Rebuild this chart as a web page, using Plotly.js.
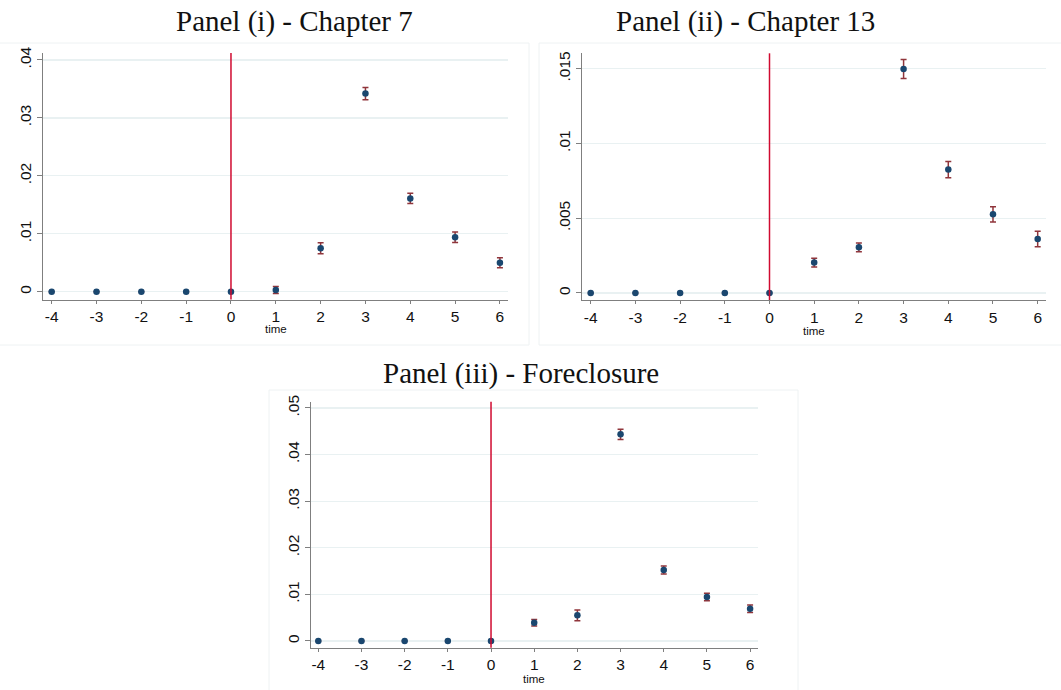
<!DOCTYPE html>
<html>
<head>
<meta charset="utf-8">
<script src="https://cdn.plot.ly/plotly-3.0.1.min.js"></script>
<style>html,body{margin:0;padding:0;background:#fff}#chart{width:1061px;height:690px}</style>
</head>
<body>
<div id="chart"></div>
<script>
// ---- data ----
const time = [-4, -3, -2, -1, 0, 1, 2, 3, 4, 5, 6];

const ch7     = [0, 0, 0, 0, 0, 0.0003, 0.0075, 0.0342, 0.0161, 0.0094, 0.0050];
const ch7Err  = [0, 0, 0, 0, 0, 0.0006, 0.00095, 0.00106, 0.00089, 0.00092, 0.00086];

const ch13    = [0, 0, 0, 0, 0, 0.00203, 0.00305, 0.01498, 0.00825, 0.00526, 0.00361];
const ch13Err = [0, 0, 0, 0, 0, 0.0003, 0.0003, 0.00064, 0.00055, 0.00051, 0.00052];

const fore    = [0, 0, 0, 0, 0, 0.00393, 0.00551, 0.04435, 0.01524, 0.00944, 0.00694];
const foreErr = [0, 0, 0, 0, 0, 0.0007, 0.00114, 0.0011, 0.00086, 0.0008, 0.0008];

const xTicks  = [-4, -3, -2, -1, 0, 1, 2, 3, 4, 5, 6];
const xLabels = ["-4", "-3", "-2", "-1", "0", "1", "2", "3", "4", "5", "6"];
const ch7Ticks  = [0, 0.01, 0.02, 0.03, 0.04];
const ch7Labels = ["0", ".01", ".02", ".03", ".04"];
const ch13Ticks  = [0, 0.005, 0.01, 0.015];
const ch13Labels = ["0", ".005", ".01", ".015"];
const foreTicks  = [0, 0.01, 0.02, 0.03, 0.04, 0.05];
const foreLabels = ["0", ".01", ".02", ".03", ".04", ".05"];

const titles = ["Panel (i) - Chapter 7", "Panel (ii) - Chapter 13", "Panel (iii) - Foreclosure"];
const xTitle = "time";

// ---- styles ----
const W = 1061, H = 690;
const navy = "#1a476f", maroon = "#90353b", red = "#d00a30";
const gridCol = "#e9f1f2", axisCol = "#7f7f7f";
const sans = "Liberation Sans, Arial, sans-serif";
const tickFont = {family: sans, size: 15.5, color: "#111"};

function trace(y, err, xa, ya) {
  return {
    x: time, y: y, xaxis: xa, yaxis: ya, type: "scatter", mode: "markers",
    marker: {color: navy, size: 6.5},
    error_y: {type: "data", array: err, visible: true, color: maroon, thickness: 1.5, width: 3},
    showlegend: false, hoverinfo: "x+y"
  };
}

const px = v => v / W;
const py = v => 1 - v / H;

function xAxis(d0, d1, anchor, range) {
  return {
    domain: [px(d0), px(d1)], anchor: anchor, range: range,
    tickvals: xTicks, ticktext: xLabels, ticks: "outside", ticklen: 3, tickcolor: axisCol,
    showline: true, linecolor: axisCol, linewidth: 1, showgrid: false, zeroline: false,
    tickfont: tickFont
  };
}
function yAxis(top, bottom, anchor, range, tv, tt) {
  return {
    domain: [py(bottom), py(top)], anchor: anchor, range: range,
    tickvals: tv, ticktext: tt, tickangle: -90, ticks: "outside", ticklen: 5, tickcolor: axisCol,
    showline: true, linecolor: axisCol, linewidth: 1, showgrid: true, gridcolor: gridCol, gridwidth: 1.2,
    zeroline: false, tickfont: tickFont
  };
}

const data = [
  trace(ch7, ch7Err, "x", "y"),
  trace(ch13, ch13Err, "x2", "y2"),
  trace(fore, foreErr, "x3", "y3")
];

function vline(xa, ya) {
  return {type: "line", xref: xa, yref: ya + " domain", x0: 0, x1: 0, y0: 0, y1: 1,
          line: {color: red, width: 1.5}, layer: "above"};
}
function box(x0, y0, x1, y1) {
  return {type: "rect", xref: "paper", yref: "paper", x0: px(x0), x1: px(x1), y0: py(y1), y1: py(y0),
          line: {color: "#eef2f3", width: 1}, fillcolor: "rgba(0,0,0,0)", layer: "below"};
}
const titleFont = {family: "Liberation Serif, Times New Roman, serif", size: 29, color: "#111"};
function ttl(text, x, y) {
  return {text: text, xref: "paper", yref: "paper", x: px(x), y: py(y), xanchor: "center", yanchor: "middle",
          showarrow: false, font: titleFont};
}
function xlab(xa, y) {
  return {text: xTitle, xref: xa, yref: "paper", x: 1, y: py(y), xanchor: "center", yanchor: "middle",
          showarrow: false, font: {family: sans, size: 11.5, color: "#111"}};
}

const layout = {
  width: W, height: H, margin: {l: 0, r: 0, t: 0, b: 0},
  paper_bgcolor: "#fff", plot_bgcolor: "#fff", showlegend: false,
  xaxis:  xAxis(43.3, 508, "y", [-4.187, 6.18]),
  yaxis:  yAxis(53, 299.5, "x", [-0.00134, 0.0412], ch7Ticks, ch7Labels),
  xaxis2: xAxis(582.3, 1046, "y2", [-4.188, 6.186]),
  yaxis2: yAxis(53.3, 300, "x2", [-0.00047, 0.01603], ch13Ticks, ch13Labels),
  xaxis3: xAxis(310.7, 758.3, "y3", [-4.176, 6.19]),
  yaxis3: yAxis(401.7, 647.7, "x3", [-0.00144, 0.05135], foreTicks, foreLabels),
  shapes: [
    box(-2, 43, 529, 345), box(539, 43, 1062, 345), box(269, 390, 798, 692),
    vline("x", "y"), vline("x2", "y2"), vline("x3", "y3")
  ],
  annotations: [
    ttl(titles[0], 294, 22), ttl(titles[1], 745, 22), ttl(titles[2], 521, 373),
    xlab("x", 329.5), xlab("x2", 331), xlab("x3", 679)
  ]
};

Plotly.newPlot("chart", data, layout, {displayModeBar: false, staticPlot: true});
</script>
</body>
</html>
